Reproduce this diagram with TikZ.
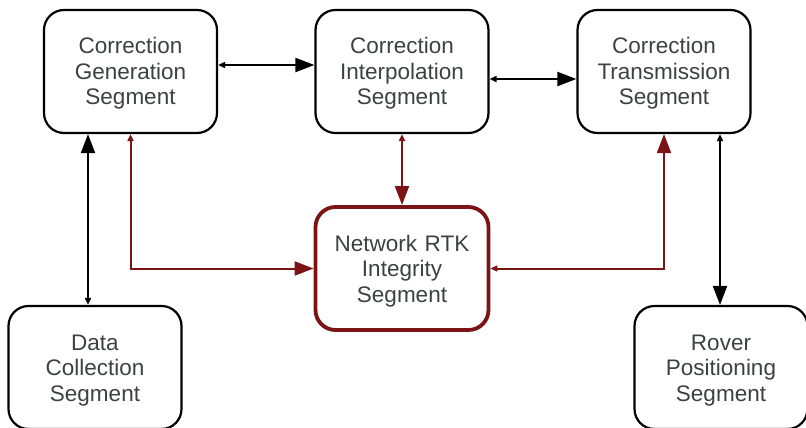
\documentclass[tikz,border=0pt]{standalone}
\usepackage{fontspec}
\setmainfont{Liberation Sans}
\usepackage{tikz}
\usetikzlibrary{arrows.meta,positioning}
\definecolor{segedge}{RGB}{0,0,0}
\definecolor{segtext}{RGB}{62,64,66}
\definecolor{intred}{RGB}{124,20,22}
\tikzset{
  segbox/.style={
    draw=segedge, line width=2.2pt, rounded corners=20pt, fill=white,
    minimum width=173pt, minimum height=123pt, text width=165pt,
    align=center, text=segtext, font=\fontsize{22.5}{25.5}\selectfont,
    text height=21pt, text depth=56pt
  },
  intbox/.style={segbox, draw=intred, line width=3.8pt},
  smallbig/.style={
    {Triangle[length=7pt,width=6pt]}-{Triangle[length=19pt,width=14pt]}
  },
  link/.style={smallbig, draw=black, line width=2.1pt},
  redlink/.style={smallbig, draw=intred, line width=2pt}
}
\begin{document}
\begin{tikzpicture}[x=1pt,y=-1pt]
  \useasboundingbox (0,0) rectangle (806,428);
  % top row
  \node[segbox] (cg) at (130.5,71.5) {Correction\\Generation\\Segment};
  \node[segbox] (ci) at (402,71.5) {Correction\\Interpolation\\Segment};
  \node[segbox] (ct) at (664,71.5) {Correction\\Transmission\\Segment};
  % middle and bottom
  \node[intbox] (nrtk) at (402,268.5) {Network RTK\\Integrity\\Segment};
  \node[segbox] (dc) at (95,367.5) {Data\\Collection\\Segment};
  \node[segbox] (rp) at (721,367.5) {Rover\\Positioning\\Segment};

  % black links
  \draw[link] ([yshift=6.5pt]cg.east) -- ([yshift=6.5pt]ci.west);
  \draw[link] ([yshift=-7.5pt]ci.east) -- ([yshift=-7.5pt]ct.west);
  \draw[link] ([xshift=-42.5pt]cg.south |- dc.north) -- ([xshift=-42.5pt]cg.south);
  \draw[link] ([xshift=56pt]ct.south) -- ([xshift=56pt]ct.south |- rp.north);

  % integrity links
  \draw[redlink] (ci.south) -- (nrtk.north);
  \draw[redlink] (cg.south) |- (nrtk.west);
  \draw[redlink] (nrtk.east) -| (ct.south);
\end{tikzpicture}
\end{document}
